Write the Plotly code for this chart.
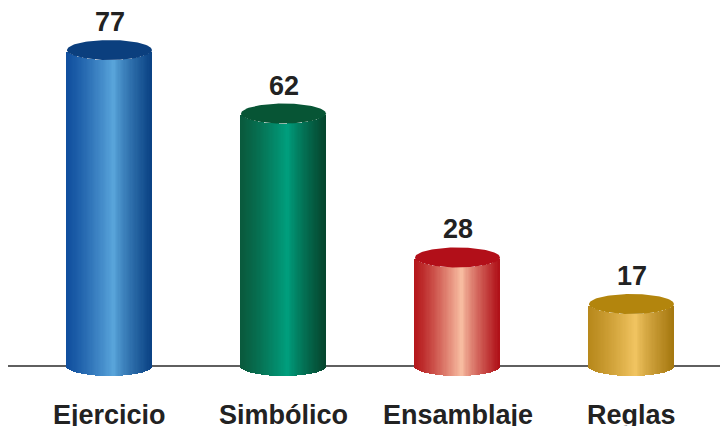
import numpy as np
import plotly.graph_objects as go

# ---- data ----
categories = ["Ejercicio", "Simbólico", "Ensamblaje", "Reglas"]
values = [77, 62, 28, 17]

# ---- styles ----
side_stops = [  # (left, highlight, right)
    ("#104f9e", "#5aa6dc", "#0a4284"),
    ("#0a5a3d", "#00a07f", "#06452d"),
    ("#b5171b", "#f9c0a4", "#b01018"),
    ("#b8891c", "#f2c562", "#a67810"),
]
top_colors = ["#0b3f7e", "#075535", "#b20f19", "#b3850d"]
hl_pos = 0.56

OFF = 8  # page body margin
PX_PER_UNIT = 4.233
ZERO_PX = 376 - OFF
H_PX = 426 - OFF
W_PX = 728  # figure slightly wider than the visible window (cropped at right)
SPACING_PX = 174
FIRST_PX = 109.5 - OFF
BAR_PX = 85
ELL_PX = 10
LABEL_PX = 415 - OFF
FRAG_BOX_PX = 721 - OFF

ymax = ZERO_PX / PX_PER_UNIT
ymin = -(H_PX - ZERO_PX) / PX_PER_UNIT
xmin = -FIRST_PX / SPACING_PX
xmax = xmin + W_PX / SPACING_PX
bw = BAR_PX / SPACING_PX
eh = ELL_PX / PX_PER_UNIT
label_y = (ZERO_PX - LABEL_PX) / PX_PER_UNIT


def hex2rgb(h):
    h = h.lstrip("#")
    return np.array([int(h[i:i + 2], 16) for i in (0, 2, 4)], float)


def grad(stops, f):
    l, m, r = (hex2rgb(s) for s in stops)
    if f < hl_pos:
        t = f / hl_pos
        c = l + (m - l) * (t ** 1.2)
    else:
        t = (f - hl_pos) / (1 - hl_pos)
        c = m + (r - m) * (t ** 0.8)
    return "rgb(%d,%d,%d)" % tuple(np.clip(c, 0, 255))


fig = go.Figure()

N = 70
xs, ys, bases, cols = [], [], [], []
for i, v in enumerate(values):
    for k in range(N):
        f = (k + 0.5) / N
        u = 2 * f - 1
        d = eh * np.sqrt(max(0.0, 1 - u * u))
        xs.append(i + (f - 0.5) * bw)
        bases.append(eh - d)
        ys.append((v - d) - (eh - d))
        cols.append(grad(side_stops[i], f))

fig.add_trace(go.Bar(
    x=xs, y=ys, base=bases, width=[bw / N * 1.6] * len(xs),
    marker=dict(color=cols, line=dict(width=0)),
    hoverinfo="skip", showlegend=False,
))

t = np.linspace(0, 2 * np.pi, 120)
for i, v in enumerate(values):
    fig.add_trace(go.Scatter(
        x=i + bw / 2 * np.cos(t), y=v + eh * np.sin(t),
        fill="toself", fillcolor=top_colors[i], mode="lines",
        line=dict(width=0, color=top_colors[i]),
        hoverinfo="skip", showlegend=False,
    ))
    fig.add_annotation(
        x=i, y=v, yshift=28, text="<b>%d</b>" % v, showarrow=False,
        font=dict(family="Liberation Sans, Arial", size=27, color="#222222"),
        xanchor="center", yanchor="middle",
    )
    fig.add_annotation(
        x=i, y=label_y, text="<b>%s</b>" % categories[i],
        showarrow=False, yanchor="middle", xanchor="center",
        font=dict(family="Liberation Sans, Arial", size=27, color="#222222"),
    )

# text fragment cut off at the right edge of the window
fig.add_annotation(
    x=xmin + FRAG_BOX_PX / SPACING_PX, xref="x", y=1, yref="paper",
    xanchor="left", yanchor="top", yshift=2, text="<b>(</b>", showarrow=False,
    font=dict(family="Liberation Sans, Arial", size=27, color="#333333"),
)

fig.add_shape(type="line", xref="paper", yref="y", x0=0, x1=1,
              y0=eh, y1=eh, line=dict(color="#5f5f5f", width=2), layer="below")

fig.update_layout(
    width=W_PX, height=H_PX, margin=dict(l=0, r=0, t=0, b=0),
    paper_bgcolor="white", plot_bgcolor="white", barmode="overlay",
    bargap=0,
    xaxis=dict(range=[xmin, xmax], visible=False, fixedrange=True),
    yaxis=dict(range=[ymin, ymax], visible=False, fixedrange=True),
)

fig.write_html("out.html", post_script="document.body.style.overflow='hidden';")
